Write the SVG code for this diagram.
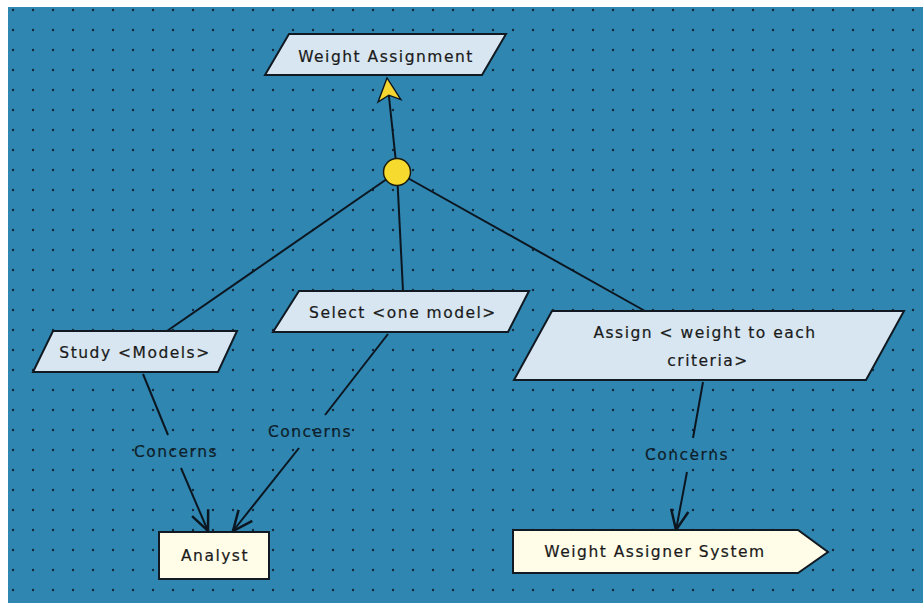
<svg xmlns="http://www.w3.org/2000/svg" width="923" height="607" viewBox="0 0 923 607">
  <style>
    .goal { fill: #d7e6f0; stroke: #111a22; stroke-width: 2; }
    .agent { fill: #fffde8; stroke: #111a22; stroke-width: 2; }
    .lbl { font-family: "DejaVu Sans", "Liberation Sans", sans-serif; font-size: 15.5px; letter-spacing: 1.5px; fill: #1a1a1a; stroke: #1a1a1a; stroke-width: 0.2; text-anchor: middle; }
    .elbl { font-family: "DejaVu Sans", "Liberation Sans", sans-serif; font-size: 15.5px; letter-spacing: 1.5px; fill: #0e1e2a; stroke: #0e1e2a; stroke-width: 0.2; text-anchor: middle; }
    .edge { fill: none; stroke: #0c1620; stroke-width: 2; }
  </style>
  <defs>
    <pattern id="grid" patternUnits="userSpaceOnUse" x="3" y="0" width="20" height="20">
      <circle cx="10" cy="10" r="1.2" fill="#13283a"/>
    </pattern>
    <marker id="open" markerUnits="userSpaceOnUse" markerWidth="30" markerHeight="30" viewBox="-20 -10 24 20" refX="0" refY="0" orient="auto">
      <path d="M-16,-7 L0,0 L-16,7" fill="none" stroke="#0c1620" stroke-width="2"/>
    </marker>
    <marker id="refine" markerUnits="userSpaceOnUse" markerWidth="30" markerHeight="30" viewBox="-22 -12 26 24" refX="0" refY="0" orient="auto">
      <path d="M0,0 L-20,-10 L-15,0 L-20,10 Z" fill="#f5d530" stroke="#0c1620" stroke-width="1.2" stroke-linejoin="miter"/>
    </marker>
  </defs>

  <!-- canvas -->
  <rect x="0" y="0" width="923" height="607" fill="#ffffff"/>
  <rect x="8" y="7" width="915" height="596" fill="#2f86b0"/>
  <rect x="8" y="7" width="915" height="596" fill="url(#grid)"/>

  <!-- connectors -->
  <g id="connectors">
    <line class="edge" x1="397" y1="172" x2="387" y2="78" marker-end="url(#refine)"/>
    <line class="edge" x1="397" y1="172" x2="167" y2="331"/>
    <line class="edge" x1="397" y1="172" x2="403" y2="291"/>
    <line class="edge" x1="397" y1="172" x2="645" y2="311"/>

    <line class="edge" x1="143" y1="374" x2="168" y2="435"/>
    <line class="edge" x1="181" y1="468" x2="208" y2="531" marker-end="url(#open)"/>
    <text class="elbl" x="176" y="457">Concerns</text>

    <line class="edge" x1="388" y1="334" x2="325" y2="415"/>
    <line class="edge" x1="299" y1="448" x2="233" y2="531" marker-end="url(#open)"/>
    <text class="elbl" x="310" y="437">Concerns</text>

    <line class="edge" x1="703" y1="382" x2="693" y2="438"/>
    <line class="edge" x1="687" y1="472" x2="676" y2="530" marker-end="url(#open)"/>
    <text class="elbl" x="687" y="460">Concerns</text>
  </g>

  <!-- AND refinement node -->
  <g id="and-node">
    <circle cx="397" cy="172" r="13.5" fill="#f7da2e" stroke="#1a1a10" stroke-width="1.5"/>
  </g>

  <g id="weight-assignment">
    <polygon class="goal" points="289,34 506,34 482,75 265,75"/>
    <text class="lbl" x="386" y="62">Weight Assignment</text>
  </g>

  <g id="study-models">
    <polygon class="goal" points="53,331 237,331 218,372 33,372"/>
    <text class="lbl" x="135" y="358">Study &lt;Models&gt;</text>
  </g>

  <g id="select-model">
    <polygon class="goal" points="299,291 529,291 508,332 273,332"/>
    <text class="lbl" x="403" y="318">Select &lt;one model&gt;</text>
  </g>

  <g id="assign-weight">
    <polygon class="goal" points="552,311 904,311 866,380 514,380"/>
    <text class="lbl" x="705" y="338">Assign &lt; weight to each</text>
    <text class="lbl" x="708" y="366">criteria&gt;</text>
  </g>

  <g id="analyst">
    <rect class="agent" x="159" y="532" width="110" height="47"/>
    <text class="lbl" x="215" y="561">Analyst</text>
  </g>

  <g id="weight-assigner-system">
    <polygon class="agent" points="513,530 798,530 828,552 798,573 513,573"/>
    <text class="lbl" x="655" y="557">Weight Assigner System</text>
  </g>
</svg>
